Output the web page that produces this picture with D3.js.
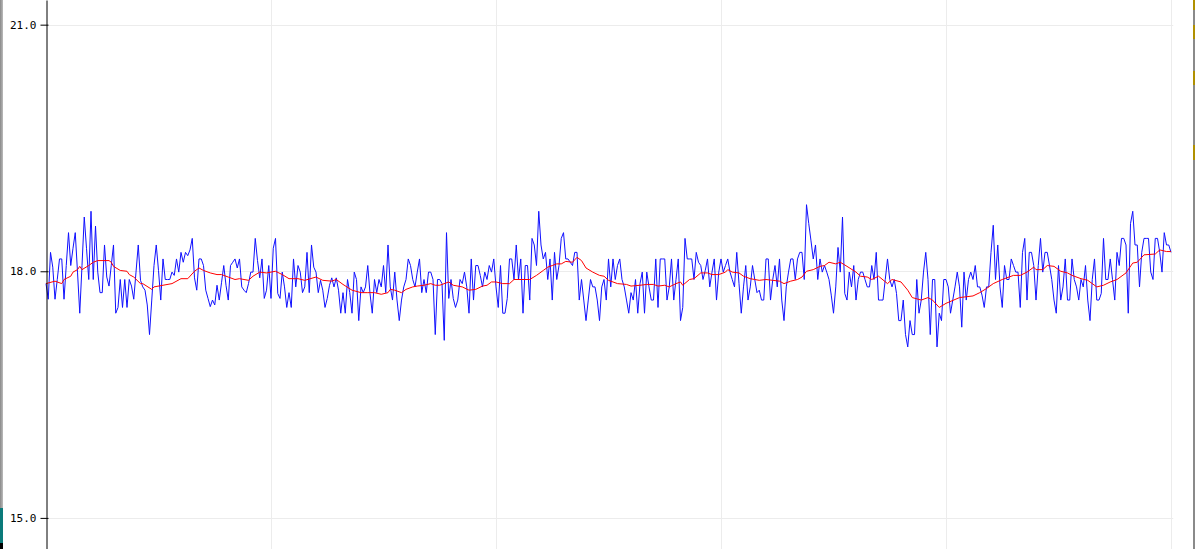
<!DOCTYPE html>
<html>
<head>
<meta charset="utf-8">
<script src="https://cdn.jsdelivr.net/npm/d3@7"></script>
<style>
  html, body { margin: 0; padding: 0; background: #fff; overflow: hidden; }
  #chart { position: absolute; left: 0; top: 0; }
  .axis text { font-family: "DejaVu Sans Mono", monospace; font-size: 11px; fill: #000; }
  .grid line { stroke: #ececec; stroke-width: 1; }
  .edge { position: absolute; }
</style>
</head>
<body>
<div id="chart"></div>
<script>
// raw readings (temperature samples) and the smoothed trace
const blueValues = [
  17.85,17.66,18.23,18.05,17.66,17.90,18.15,18.15,17.66,18.07,
  18.47,18.07,18.28,18.47,17.99,17.49,18.07,18.66,18.28,17.90,
  18.73,17.90,18.55,17.99,17.74,17.74,18.32,17.93,17.82,18.07,
  18.32,17.49,17.56,17.90,17.56,17.90,17.56,17.90,17.82,17.66,
  17.99,18.32,17.89,17.81,17.77,17.59,17.23,17.65,18.07,18.32,
  18.01,17.65,18.15,17.90,17.90,17.90,17.99,17.95,18.15,17.99,
  18.23,18.11,18.23,18.19,18.26,18.40,17.92,17.77,18.15,18.15,
  18.07,17.77,17.67,17.57,17.65,17.59,17.83,17.65,17.86,18.07,
  17.83,17.65,18.07,18.11,18.15,18.04,18.15,17.81,17.77,17.74,
  17.85,17.99,17.99,18.40,18.13,17.92,18.15,17.67,17.77,18.07,
  17.67,18.28,18.40,17.73,17.67,17.99,17.81,17.56,17.74,17.56,
  18.15,17.81,18.07,17.99,17.74,17.81,18.23,17.74,18.32,18.05,
  17.99,17.74,17.89,17.77,17.56,17.67,17.83,17.92,17.81,17.92,
  17.77,17.49,17.74,17.49,17.90,17.74,17.49,17.99,17.90,17.40,
  17.81,17.74,17.81,18.07,17.73,17.49,17.90,17.74,17.90,17.81,
  18.07,17.74,18.32,17.81,17.65,17.99,17.65,17.40,17.65,17.81,
  17.90,18.15,18.07,17.90,17.81,17.99,18.15,17.74,17.90,17.74,
  17.99,17.99,17.90,17.23,17.90,17.90,17.85,17.16,18.47,17.67,
  17.90,17.67,17.56,17.65,17.90,17.85,17.99,17.81,17.49,18.15,
  17.65,18.07,18.07,17.95,17.81,17.99,17.90,18.07,17.99,18.15,
  17.81,17.56,18.07,17.49,17.49,17.67,18.15,18.15,17.90,18.32,
  17.90,18.15,17.49,18.07,18.07,17.65,18.40,18.32,18.07,18.73,
  18.32,18.15,18.23,17.90,18.15,17.65,18.23,17.90,18.07,18.40,
  18.47,18.15,18.15,18.11,18.07,18.23,18.23,17.65,17.90,17.65,
  17.40,17.65,17.90,17.81,17.81,17.65,17.40,17.81,17.90,17.65,
  18.15,17.81,18.15,17.90,18.07,18.15,17.90,17.81,17.65,17.49,
  17.74,17.65,17.90,17.49,17.85,17.99,17.49,17.99,17.81,17.65,
  17.65,18.15,17.56,18.15,18.15,18.15,17.65,17.81,18.15,17.65,
  17.90,18.15,17.40,17.56,18.40,18.15,18.15,18.15,17.90,18.23,
  18.11,18.07,17.90,18.01,18.15,17.81,17.99,18.15,17.65,17.99,
  18.15,17.99,18.07,18.15,17.99,17.90,17.81,18.23,17.85,17.49,
  17.81,18.07,17.65,17.81,18.07,17.90,17.74,17.77,17.65,17.65,
  18.15,18.15,17.65,17.90,18.07,17.81,18.15,17.65,17.40,17.81,
  17.99,18.15,18.15,17.90,18.15,18.23,18.23,17.90,18.81,18.58,
  18.37,18.15,18.32,17.90,18.15,17.99,18.07,17.99,17.90,17.71,
  17.49,17.81,18.29,17.99,18.66,17.73,17.65,17.99,17.81,18.07,
  17.65,17.90,17.99,17.99,17.90,17.81,17.81,18.07,17.90,18.23,
  17.65,17.65,17.65,17.90,18.15,17.90,17.81,17.90,17.73,17.40,
  17.40,17.65,17.23,17.08,17.40,17.23,17.23,17.90,17.49,17.65,
  17.99,18.23,17.90,17.23,17.90,17.90,17.08,17.49,17.40,17.90,
  17.90,17.81,17.49,17.65,17.81,17.99,17.81,17.32,17.99,17.65,
  17.90,17.99,17.90,18.07,17.81,17.81,17.71,17.56,17.81,17.81,
  18.23,18.56,17.90,18.32,17.81,17.56,18.07,17.90,17.90,18.15,
  18.07,17.99,17.99,17.56,18.23,18.40,17.65,18.23,18.23,18.07,
  17.65,18.07,18.40,17.99,18.23,18.23,18.07,17.90,17.65,17.49,
  18.07,17.65,17.81,18.15,17.65,17.65,18.15,17.90,17.81,17.65,
  17.90,17.81,18.07,17.65,17.40,17.90,18.15,17.65,17.65,17.73,
  18.40,17.90,17.90,18.15,17.90,17.65,18.23,18.07,18.40,18.40,
  18.32,17.49,18.58,18.73,18.32,18.32,17.81,18.23,18.40,18.40,
  18.40,17.99,17.90,18.40,18.40,18.23,17.99,18.47,18.32,18.32,
  18.23
];

const redIndex = [
  0,4,7,8,11,12,14,15,16,19,21,23,28,29,30,33,36,37,39,42,43,47,48,52,56,60,63,
  66,68,70,73,76,78,81,84,86,90,92,95,98,102,105,108,112,115,120,123,127,129,132,
  136,140,143,146,149,152,153,155,158,160,163,165,168,171,173,175,179,181,185,188,
  191,194,196,198,200,203,206,208,212,215,218,221,223,225,227,229,231,234,236,238,
  240,243,246,248,250,254,258,260,264,267,270,272,275,277,280,282,283,286,288,291,
  294,296,299,302,303,305,308,310,313,315,317,320,323,326,328,331,334,336,338,341,
  344,346,348,351,353,356,360,362,365,367,370,374,376,380,383,385,389,392,394,397,
  400,406,412,415,418,421,425,430,433,436,439,440,443,445,448,451,454,456,460,463,
  467,470,473,476,480,483,485,488,493,495,498,500
];
const redValues = [
  17.85,17.88,17.85,17.90,17.94,17.99,18.02,18.06,18.02,18.07,18.11,18.13,18.13,18.11,
  18.06,18.01,18.00,17.96,17.93,17.85,17.85,17.78,17.81,17.83,17.85,17.91,17.91,
  18.00,18.04,18.01,17.98,17.96,17.96,17.93,17.90,17.91,17.89,17.94,17.99,17.98,
  18.00,17.96,17.91,17.91,17.89,17.93,17.89,17.88,17.90,17.84,
  17.77,17.74,17.74,17.74,17.72,17.74,17.78,17.77,17.74,17.78,17.81,17.82,17.83,
  17.85,17.83,17.83,17.87,17.83,17.81,17.77,
  17.78,17.82,17.83,17.87,17.87,17.85,17.85,17.90,17.90,17.90,17.95,18.01,18.05,
  18.07,18.09,18.09,18.12,18.11,18.17,18.13,
  18.04,17.99,17.95,17.94,17.89,17.85,17.84,17.82,17.83,17.84,17.84,17.82,17.83,
  17.81,17.85,17.87,17.83,17.90,17.91,17.98,
  17.98,17.96,17.96,17.99,18.02,17.99,17.98,17.94,17.91,17.90,17.89,17.90,17.89,
  17.88,17.85,17.88,17.90,17.93,18.00,18.02,
  18.06,18.07,18.11,18.09,18.11,18.06,17.99,17.94,17.93,17.90,17.94,17.85,17.90,
  17.87,17.77,17.68,17.65,17.68,17.65,17.56,
  17.61,17.68,17.70,17.74,17.79,17.85,17.90,17.95,17.95,17.99,18.05,18.02,18.02,
  18.07,18.06,18.00,17.98,17.95,17.91,17.89,
  17.81,17.83,17.87,17.90,17.98,18.10,18.11,18.20,18.21,18.26,18.24,18.24
];

const yTicks = [15, 18, 21];
const xTicks = [100, 200, 300, 400, 500];

const width = 1195;
const height = 560;
const left = 46;

const svg = d3.select("#chart").append("svg")
  .attr("width", width)
  .attr("height", height);

const x = d3.scaleLinear().domain([0, 501]).range([left, left + 501 * 2.25]);
const y = d3.scaleLinear().domain([14.5, 21.3]).range([559, 0]);

// grid
const grid = svg.append("g").attr("class", "grid");
grid.selectAll(".hgrid")
  .data(yTicks)
  .enter().append("line")
    .attr("x1", left)
    .attr("x2", x(501))
    .attr("y1", d => Math.round(y(d)) + 0.5)
    .attr("y2", d => Math.round(y(d)) + 0.5);
grid.selectAll(".vgrid")
  .data(xTicks)
  .enter().append("line")
    .attr("x1", d => Math.round(x(d)) + 0.5)
    .attr("x2", d => Math.round(x(d)) + 0.5)
    .attr("y1", 0)
    .attr("y2", height);

// lines
const lineBlue = d3.line()
  .x((d, i) => x(i))
  .y(d => y(d));

const lineRed = d3.line()
  .x((d, i) => x(redIndex[i]))
  .y(d => y(d));

svg.append("path")
  .datum(blueValues)
  .attr("fill", "none")
  .attr("stroke", "#1010ff")
  .attr("stroke-width", 1)
  .attr("d", lineBlue);

svg.append("path")
  .datum(redValues)
  .attr("fill", "none")
  .attr("stroke", "#ff0000")
  .attr("stroke-width", 1)
  .attr("d", lineRed);

// y axis
const yAxis = d3.axisLeft(y)
  .tickValues(yTicks)
  .tickFormat(d3.format(".1f"))
  .tickSizeInner(6)
  .tickSizeOuter(0)
  .tickPadding(4);

const yg = svg.append("g")
  .attr("class", "axis")
  .attr("transform", `translate(${left + 0.5},0)`)
  .call(yAxis);
yg.select(".domain").attr("stroke", "#000");
yg.selectAll(".tick line")
  .attr("x1", -6)
  .attr("x2", 2)
  .attr("stroke", "#000");

// window edges
d3.select("body").append("div").attr("class", "edge")
  .style("left", "0px").style("top", "0px")
  .style("width", "3px").style("height", "549px")
  .style("background", "linear-gradient(to right, #888, #bbb)");
d3.select("body").append("div").attr("class", "edge")
  .style("left", "0px").style("top", "508px")
  .style("width", "3px").style("height", "35px")
  .style("background", "#0a7a7a");
d3.select("body").append("div").attr("class", "edge")
  .style("left", "0px").style("top", "543px")
  .style("width", "3px").style("height", "6px")
  .style("background", "#000");
d3.select("body").append("div").attr("class", "edge")
  .style("left", "1193px").style("top", "0px")
  .style("width", "2px").style("height", "549px")
  .style("background", "#8a8a8a");
[[0, 10], [25, 14], [71, 14], [145, 15]].forEach(d => {
  d3.select("body").append("div").attr("class", "edge")
    .style("left", "1193px").style("top", d[0] + "px")
    .style("width", "2px").style("height", d[1] + "px")
    .style("background", "#b09000");
});
</script>
</body>
</html>
